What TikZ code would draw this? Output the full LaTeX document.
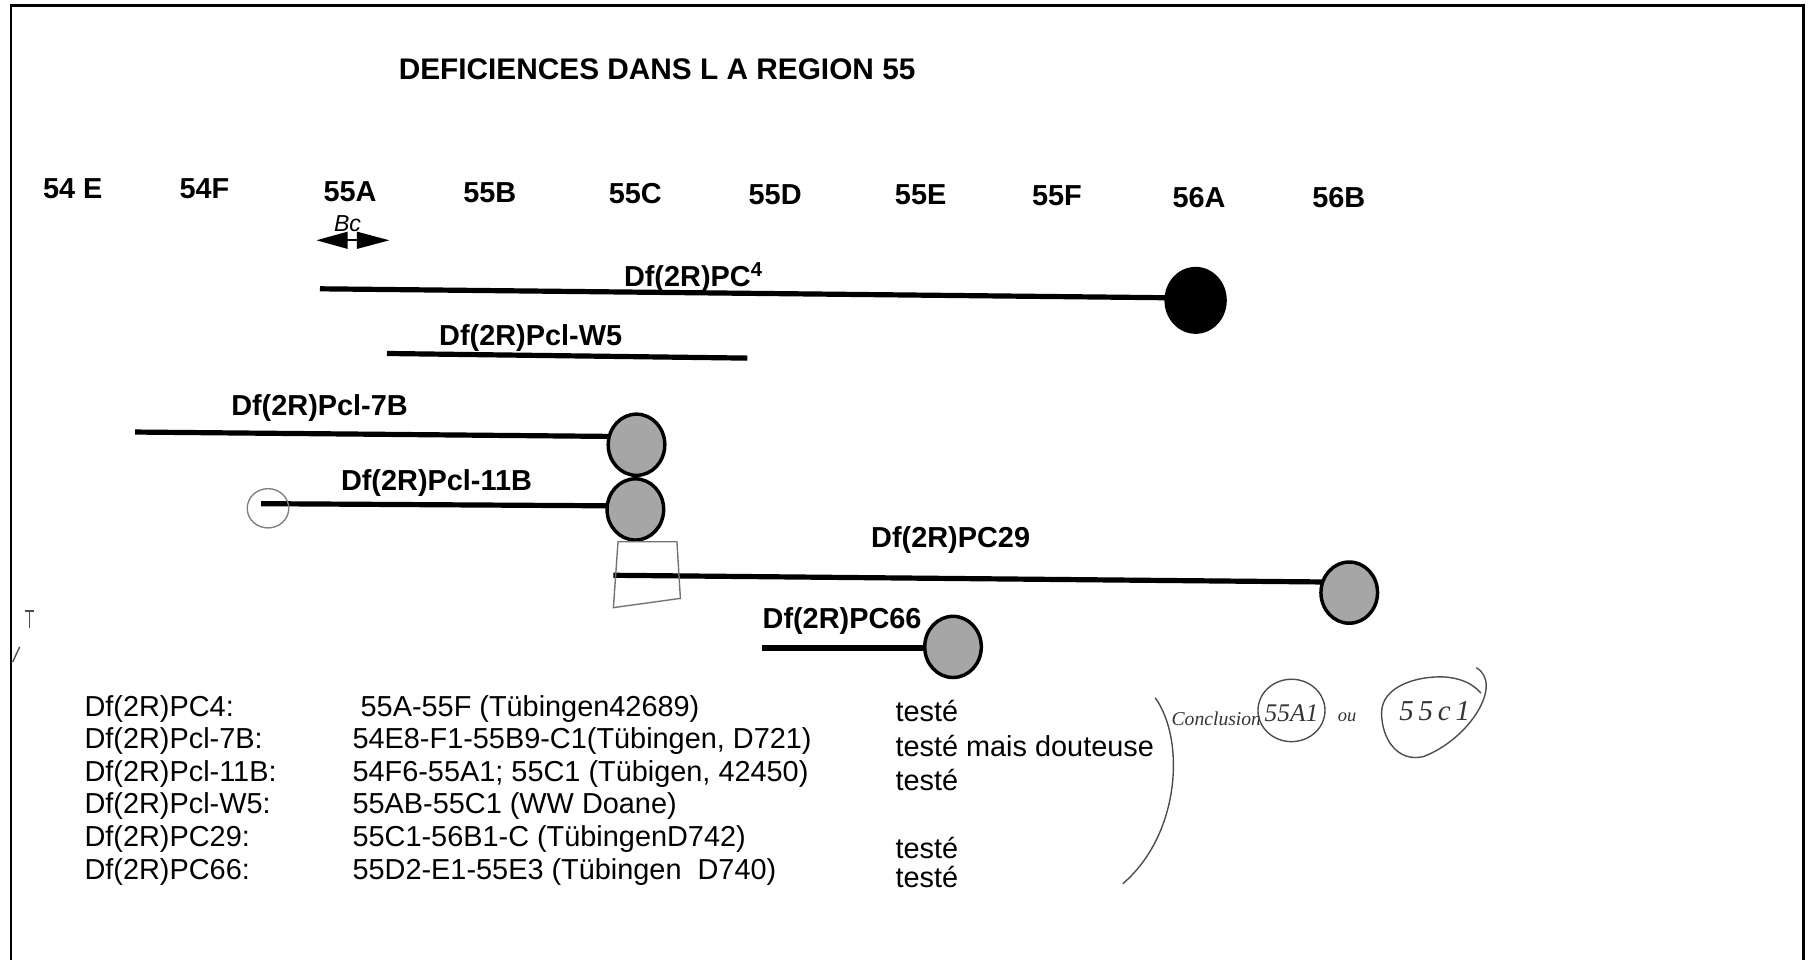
\documentclass[tikz,border=0pt]{standalone}
\usepackage{fontspec}
\setmainfont{Liberation Sans}
\newfontfamily\handfont{Liberation Serif}
\usetikzlibrary{shapes.geometric}
\begin{document}
\begin{tikzpicture}[x=1pt,y=-1pt,
  seg/.style={line width=4.5pt},
  lab/.style={font=\fontsize{25}{28}\selectfont\bfseries, inner sep=0, anchor=base west},
  colab/.style={font=\fontsize{25}{28}\selectfont\bfseries, inner sep=0, anchor=base},
  tab/.style={font=\fontsize{25}{28}\selectfont, inner sep=0, anchor=base west},
  gdot/.style={ellipse, draw=black, line width=3pt, fill=black!35, minimum width=49pt, minimum height=53pt, inner sep=0},
  bdot/.style={ellipse, draw=black, line width=2pt, fill=black, minimum width=52pt, minimum height=56pt, inner sep=0},
  hand/.style={draw=black!70, line width=1.2pt},
  handtxt/.style={font=\handfont\itshape, text=black!80, inner sep=0},
]
\useasboundingbox (0,0) rectangle (1566,831);
% frame (open at the bottom)
\draw[line width=2.5pt] (9.5,831) -- (9.5,4.5) -- (1561.5,4.5) -- (1561.5,831);

% title
\node[lab, font=\fontsize{25.8}{28}\selectfont\bfseries] (title) at (345,69) {DEFICIENCES DANS L A REGION 55};

% cytological divisions
\node[colab] (c54E) at (63,172) {54 E};
\node[colab] (c54F) at (177,172) {54F};
\node[colab] (c55A) at (303,174) {55A};
\node[colab] (c55B) at (424,175) {55B};
\node[colab] (c55C) at (550,176) {55C};
\node[colab] (c55D) at (671,177) {55D};
\node[colab] (c55E) at (797,177) {55E};
\node[colab] (c55F) at (915,178) {55F};
\node[colab] (c56A) at (1038,180) {56A};
\node[colab] (c56B) at (1159,180) {56B};

% Bc double arrow
\fill (274,208) -- (301,200.5) -- (301,215.5) -- cycle;
\fill (337,208) -- (309,200.5) -- (309,215.5) -- cycle;
\draw[line width=2pt] (300,208) -- (310,208);
\node[font=\fontsize{20}{22}\selectfont\itshape, inner sep=0, anchor=base west] (bc) at (289,200) {Bc};

% deficiency segments
\coordinate (s4) at (277,250);   \coordinate (e4) at (1035,258);
\coordinate (sW5) at (335,306);  \coordinate (eW5) at (647,310);
\coordinate (s7) at (117,374);   \coordinate (e7) at (551,378);
\coordinate (s11) at (226,436);  \coordinate (e11) at (550,438);
\coordinate (s29) at (531,498);  \coordinate (e29) at (1168,504);
\coordinate (s66) at (660,561);  \coordinate (e66) at (825,561);

\draw[seg] (s4) -- (e4);
\draw[seg] (sW5) -- (eW5);
\draw[seg] (s7) -- (e7);
\draw[seg] (s11) -- (e11);
\draw[seg] (s29) -- (e29);
\draw[seg] (s66) -- (e66);

\node[bdot] (d4) at (1035,260) {};
\node[gdot] (d7) at (551,385) {};
\node[gdot] (d11) at (550,441) {};
\node[gdot] (d29) at (1168,513) {};
\node[gdot] (d66) at (825,560) {};

% hand marks
\draw[hand, draw=black!50] (232,440) ellipse [x radius=18, y radius=17];
\draw[hand, draw=black!55] (535,469) -- (586,469) -- (589,518) -- (531,526) -- cycle;

% segment labels
\node[lab] (l4) at (540,248) {Df(2R)PC\textsuperscript{4}};
\node[lab] (lW5) at (380,299) {Df(2R)Pcl-W5};
\node[lab] (l7) at (200,360) {Df(2R)Pcl-7B};
\node[lab] (l11) at (295,425) {Df(2R)Pcl-11B};
\node[lab] (l29) at (754,474) {Df(2R)PC29};
\node[lab] (l66) at (660,544) {Df(2R)PC66};

% table
\node[tab] (t1a) at (73,620) {Df(2R)PC4:};
\node[tab] (t2a) at (73,648.2) {Df(2R)Pcl-7B:};
\node[tab] (t3a) at (73,676.4) {Df(2R)Pcl-11B:};
\node[tab] (t4a) at (73,704.6) {Df(2R)Pcl-W5:};
\node[tab] (t5a) at (73,732.8) {Df(2R)PC29:};
\node[tab] (t6a) at (73,761) {Df(2R)PC66:};

\node[tab] (t1b) at (312,620) {55A-55F (Tübingen42689)};
\node[tab] (t2b) at (305,648.2) {54E8-F1-55B9-C1(Tübingen, D721)};
\node[tab] (t3b) at (305,676.4) {54F6-55A1; 55C1 (Tübigen, 42450)};
\node[tab] (t4b) at (305,704.6) {55AB-55C1 (WW Doane)};
\node[tab] (t5b) at (305,732.8) {55C1-56B1-C (TübingenD742)};
\node[tab] (t6b) at (305,761) {55D2-E1-55E3 (Tübingen\ \ D740)};

\node[tab] (t1c) at (775,625) {testé};
\node[tab] (t2c) at (775,655) {testé mais douteuse};
\node[tab] (t3c) at (775,684) {testé};
\node[tab] (t5c) at (775,743) {testé};
\node[tab] (t6c) at (775,768) {testé};

% bracket
\draw[hand] (1000,604) .. controls (1026,640) and (1022,722) .. (972,765);

% handwritten conclusion
\node[handtxt, font=\handfont\itshape\fontsize{17}{18}\selectfont, anchor=base west] (concl) at (1014,628) {Conclusion};
\node[handtxt, font=\handfont\itshape\fontsize{22}{24}\selectfont] (h1) at (1118,617) {55A1};
\draw[hand] (1118,615) ellipse [x radius=29, y radius=27];
\node[handtxt, font=\handfont\itshape\fontsize{16}{17}\selectfont, anchor=base west] (ou) at (1158,625) {ou};
\node[handtxt, font=\handfont\itshape\fontsize{25}{27}\selectfont] (h2) at (1242,616) {5\,5\,c\,1};
\draw[hand] (1278,578) .. controls (1302,592) and (1272,640) .. (1232,655)
  .. controls (1210,660) and (1196,640) .. (1196,617)
  .. controls (1196,595) and (1225,585) .. (1250,586)
  .. controls (1265,587) and (1275,592) .. (1282,600);

% stray marks at the left edge
\draw[hand] (22,529) -- (29,529);
\draw[hand] (25.5,529) -- (25.5,544);
\draw[hand] (11,573) -- (17,560);
\end{tikzpicture}
\end{document}
